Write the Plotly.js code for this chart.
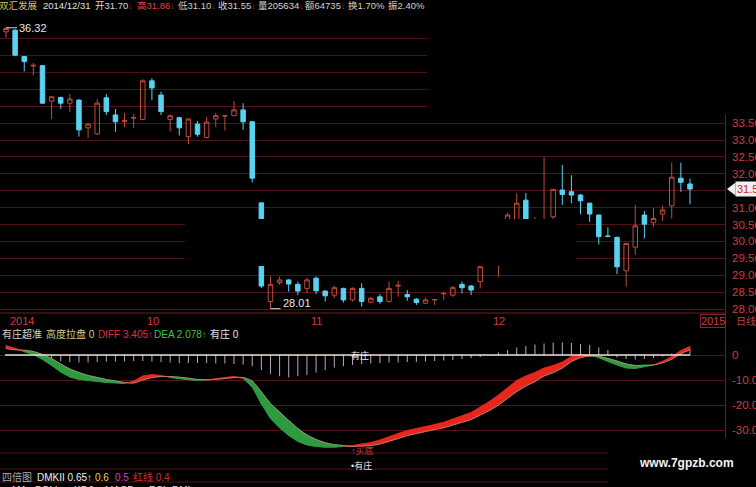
<!DOCTYPE html>
<html><head><meta charset="utf-8">
<script src="https://cdn.plot.ly/plotly-3.0.1.min.js"></script>
<style>html,body{margin:0;padding:0;background:#000;overflow:hidden}#chart{width:756px;height:487px}</style>
</head><body><div id="chart"></div>
<script>
// ---------- data ----------
const dates = [
 '2014-09-10','2014-09-11','2014-09-12','2014-09-15','2014-09-16','2014-09-17','2014-09-18','2014-09-19',
 '2014-09-22','2014-09-23','2014-09-24','2014-09-25','2014-09-26','2014-09-29','2014-09-30',
 '2014-10-08','2014-10-09','2014-10-10','2014-10-13','2014-10-14','2014-10-15','2014-10-16','2014-10-17',
 '2014-10-20','2014-10-21','2014-10-22','2014-10-23','2014-10-24','2014-10-27','2014-10-28','2014-10-29',
 '2014-10-30','2014-10-31',
 '2014-11-03','2014-11-04','2014-11-05','2014-11-06','2014-11-07','2014-11-10','2014-11-11','2014-11-12',
 '2014-11-13','2014-11-14','2014-11-17','2014-11-18','2014-11-19','2014-11-20','2014-11-21','2014-11-24',
 '2014-11-25','2014-11-26','2014-11-27','2014-11-28',
 '2014-12-01','2014-12-02','2014-12-03','2014-12-04','2014-12-05','2014-12-08','2014-12-09','2014-12-10',
 '2014-12-11','2014-12-12','2014-12-15','2014-12-16','2014-12-17','2014-12-18','2014-12-19','2014-12-22',
 '2014-12-23','2014-12-24','2014-12-25','2014-12-26','2014-12-29','2014-12-30','2014-12-31'];

const open  = [36.20,36.25,35.47,35.19,35.20,34.15,34.26,34.09,34.18,33.36,33.18,34.25,33.74,33.55,33.65,
 33.61,34.75,34.33,33.61,33.66,33.10,33.47,33.07,33.62,33.71,33.72,33.89,33.54,31.14,28.22,28.78,28.86,28.73,
 28.61,28.91,28.53,28.41,28.61,28.27,28.61,28.20,28.36,28.22,28.68,28.43,28.29,28.17,28.27,28.45,28.41,28.73,
 28.68,28.81,29.45,29.90,30.10,30.40,31.22,30.30,30.40,30.73,31.52,31.47,31.37,31.13,30.78,30.16,30.12,29.13,
 29.83,30.78,30.55,30.81,31.05,31.87,31.70];
const high  = [36.32,36.28,35.49,35.28,35.22,34.30,34.28,34.36,34.20,33.50,34.21,34.36,33.92,33.80,33.77,
 34.80,34.83,34.43,33.75,33.68,33.65,33.56,33.69,33.80,33.72,34.15,34.09,33.56,31.14,28.96,28.96,28.88,28.81,
 28.92,28.96,28.55,28.68,28.63,28.64,28.76,28.36,28.44,28.81,28.84,28.56,28.33,28.33,28.30,28.51,28.68,28.81,
 28.71,29.30,29.90,30.30,30.85,31.43,31.43,30.72,32.50,31.54,32.26,31.96,31.40,31.15,30.80,30.42,30.14,29.94,
 31.08,30.90,30.98,31.05,32.33,32.33,31.86];
const low   = [36.03,35.48,35.03,34.92,34.07,33.62,33.92,33.83,33.10,33.06,33.15,33.74,33.24,33.38,33.35,
 33.58,34.18,33.74,33.25,33.13,32.88,33.10,33.05,33.38,33.28,33.70,33.30,31.74,28.62,28.01,28.71,28.51,28.41,
 28.47,28.44,28.22,28.32,28.19,28.22,28.07,28.17,28.15,28.20,28.36,28.24,28.12,28.15,28.12,28.27,28.36,28.46,
 28.41,28.61,29.35,28.95,29.90,30.30,30.20,29.90,30.20,30.63,31.08,31.13,30.80,30.58,29.91,30.12,29.03,28.66,
 29.60,30.09,30.43,30.60,30.68,31.47,31.10];
const close = [36.30,35.51,35.32,35.21,34.09,34.28,34.09,34.21,33.30,33.47,34.09,33.84,33.54,33.57,33.66,
 34.75,34.54,33.84,33.72,33.36,33.62,33.17,33.53,33.72,33.72,33.89,33.54,31.87,28.68,28.73,28.86,28.74,28.53,
 28.86,28.54,28.39,28.63,28.27,28.61,28.22,28.32,28.22,28.61,28.70,28.36,28.19,28.27,28.28,28.46,28.63,28.63,
 28.56,29.25,29.80,30.10,30.78,31.13,30.35,30.45,30.60,31.54,31.39,31.37,31.20,30.81,30.14,30.15,29.25,29.94,
 30.46,30.51,30.68,30.93,31.90,31.75,31.55];

const diff = [3.8,2.7,1.3,0.2,-1.8,-4.2,-6.8,-8.8,-9.8,-10.2,-10.6,-11.0,-11.2,-11.4,-10.4,-8.4,-7.8,-8.2,-9.0,
 -9.5,-9.9,-10.2,-10.1,-9.5,-9.0,-8.6,-9.4,-12.8,-19.6,-25.4,-29.2,-32.2,-34.6,-36.0,-36.6,-36.9,-36.9,-36.6,
 -36.2,-35.6,-35.0,-34.0,-32.7,-31.4,-30.2,-29.4,-28.6,-27.8,-26.9,-25.6,-24.3,-23.0,-20.8,-18.6,-16.0,-13.1,
 -10.2,-8.4,-7.0,-5.2,-4.2,-2.8,-0.6,0.2,0.0,-1.1,-2.6,-4.0,-5.2,-5.4,-4.7,-4.0,-2.5,-0.7,1.8,3.405];
const dea  = [2.6,2.1,1.9,1.4,0.2,-1.4,-3.6,-5.6,-7.0,-8.2,-9.0,-9.8,-10.4,-11.0,-11.2,-10.0,-9.0,-8.6,-8.6,
 -8.9,-9.3,-9.8,-9.9,-9.7,-9.4,-9.0,-9.0,-10.4,-14.8,-19.4,-22.8,-26.2,-29.4,-32.0,-33.8,-35.1,-35.9,-36.2,
 -36.6,-36.4,-36.2,-35.6,-34.5,-33.4,-32.2,-31.4,-30.6,-29.8,-29.1,-28.0,-26.9,-25.8,-24.0,-22.2,-20.0,-17.3,
 -14.6,-12.4,-10.6,-8.4,-7.0,-5.2,-2.6,-1.0,-0.4,-0.5,-1.4,-2.4,-3.6,-4.2,-4.1,-4.0,-3.1,-1.7,0.6,2.078];
const bars = [0,0,0,0,-1.5,-2.0,-2.5,-2.8,-3.0,-3.0,-2.8,-2.6,-2.6,-2.6,-2.4,-2.4,-2.6,-2.8,-3.0,-3.2,-3.2,
 -3.2,-3.2,-3.4,-3.4,-3.6,-3.8,-4.5,-6.0,-7.5,-8.5,-9.0,-8.5,-8.0,-7.0,-6.0,-5.0,-4.5,-4.0,-3.6,-3.4,-3.2,
 -3.0,-3.0,-2.8,-2.8,-2.6,-2.4,-2.2,-2.0,-1.6,-1.2,-0.8,0,1.0,2.0,3.0,3.6,4.2,4.6,5.0,5.0,4.8,4.4,4.0,3.0,
 2.0,-1.0,-1.6,-1.8,-1.6,-1.2,-0.6,0.6,1.2,2.6];

const priceTicks = [28,28.5,29,29.5,30,30.5,31,31.5,32,32.5,33,33.5,34,34.5,35,35.5,36];
// 31.50 sits behind the last-price marker on the source, so it is left blank
const priceLabels = ['28.00','28.50','29.00','29.50','30.00','30.50','31.00','','32.00','32.50','33.00','33.50','','','','',''];
const indTicks = [0,-10,-20,-30];
const indLabels = ['0','-10.00','-20.00','-30.00'];
const monthIdx = [0,15,33,53];
const monthLabels = ['2014','10','11','12'];

// ---------- style ----------
const W = 756, H = 487;
const PX = p => p / W, PY = p => 1 - p / H;
const UP = '#c24b3a', DOWN = '#5ad3f2';
const GRID = '#521313', AXIS = '#6e1c1c', LBL = '#cf3d3d';
const FONT = 'Liberation Sans, Arial, Noto Sans CJK SC, sans-serif';
const n = dates.length;

const traces = [];
traces.push({
  type: 'candlestick', x: dates, open: open, high: high, low: low, close: close,
  xaxis: 'x', yaxis: 'y', hoverinfo: 'skip',
  increasing: {line: {color: UP, width: 1}, fillcolor: 'rgba(0,0,0,0)'},
  decreasing: {line: {color: DOWN, width: 1}, fillcolor: DOWN},
  whiskerwidth: 0
});

// histogram bars (thin sticks)
const bx = [], by = [];
for (let i = 0; i < n; i++) { if (bars[i] !== 0) { bx.push(dates[i], dates[i], null); by.push(0, bars[i], null); } }
traces.push({type: 'scatter', mode: 'lines', x: bx, y: by, xaxis: 'x2', yaxis: 'y2',
  line: {color: '#b9a9c4', width: 1}, hoverinfo: 'skip'});

// DIFF / DEA band, red where DIFF above DEA, green below
for (let i = 0; i < n - 1; i++) {
  const upSeg = (diff[i] + diff[i+1]) >= (dea[i] + dea[i+1]);
  const col = upSeg ? '#e8261c' : '#2f9a40';
  traces.push({type: 'scatter', mode: 'lines', xaxis: 'x2', yaxis: 'y2', hoverinfo: 'skip',
    x: [dates[i], dates[i+1], dates[i+1], dates[i], dates[i]],
    y: [diff[i], diff[i+1], dea[i+1], dea[i], diff[i]],
    fill: 'toself', fillcolor: col, line: {color: col, width: 1}});
}
traces.push({type: 'scatter', mode: 'lines', x: dates, y: dea, xaxis: 'x2', yaxis: 'y2',
  line: {color: '#a89276', width: 0.8, shape: 'spline'}, hoverinfo: 'skip'});

// ---------- annotations ----------
const ann = [];
const ARW = '<span style="color:#d03030;font-size:8px">↓</span>';
const header = [
  [-3, '双汇发展', '#d8c070'], [41, '2014/12/31', '#e0e0e0'], [93, '开31.70' + ARW, '#d8d8d8'],
  [135, '高31.86' + ARW, '#e04040'], [176, '低31.10' + ARW, '#c8d0d0'],
  [216, '收31.55' + ARW, '#d0d0d0'], [256, '量205634' + ARW, '#d8d8d8'], [303, '额64735' + ARW, '#d0d0d0'],
  [346, '换1.70%', '#d0d0d0'], [386, '振2.40%', '#d0d0d0']];
header.forEach(h => ann.push({xref: 'paper', yref: 'paper', x: PX(h[0]), y: PY(6), xanchor: 'left', yanchor: 'middle',
  showarrow: false, text: h[1], font: {family: FONT, size: 9.5, color: h[2]}}));

for (let k = 0; k < monthIdx.length; k++) {
  ann.push({xref: 'x', yref: 'paper', x: monthIdx[k], y: PY(321), xanchor: 'left', yanchor: 'middle', xshift: 2,
    showarrow: false, text: monthLabels[k], font: {family: FONT, size: 11, color: LBL}});
}
ann.push({xref: 'paper', yref: 'paper', x: PX(700), y: PY(321), xanchor: 'left', yanchor: 'middle', showarrow: false,
  text: '2015', font: {family: FONT, size: 11, color: LBL}, bordercolor: '#7a2a2a', borderwidth: 1, borderpad: 0});
ann.push({xref: 'paper', yref: 'paper', x: PX(734), y: PY(321), xanchor: 'left', yanchor: 'middle', showarrow: false,
  text: '日线', font: {family: FONT, size: 10, color: '#b04848'}});

// extreme price labels
let hi = 0, lo = 0;
for (let i = 1; i < n; i++) { if (high[i] > high[hi]) hi = i; if (low[i] < low[lo]) lo = i; }
ann.push({xref: 'x', yref: 'y', x: hi + 1.2, y: high[hi], xanchor: 'left', yanchor: 'middle', showarrow: false,
  text: high[hi].toFixed(2), font: {family: FONT, size: 11, color: '#e8e8e8'}});
ann.push({xref: 'x', yref: 'y', x: lo + 1.1, y: low[lo], xanchor: 'left', yanchor: 'bottom', yshift: -2, showarrow: false,
  text: low[lo].toFixed(2), font: {family: FONT, size: 11, color: '#e8e8e8'}});

// last price marker
ann.push({xref: 'paper', yref: 'y', x: PX(735), y: close[n-1], xanchor: 'left', yanchor: 'middle', showarrow: false,
  text: close[n-1].toFixed(2), bgcolor: '#f0f0f0', borderpad: 1, font: {family: FONT, size: 11, color: '#d02020'}});

// indicator header
const indHead = [
  [0, '有庄超准', '#d8d0c8'], [44, '高度拉盘 0', '#d4c88a'], [96, 'DIFF ' + diff[n-1].toFixed(3) + '↑', '#e03030'],
  [152, 'DEA ' + dea[n-1].toFixed(3) + '↑', '#40c048'], [208, '有庄 0', '#e8e8e8']];
indHead.forEach(h => ann.push({xref: 'paper', yref: 'paper', x: PX(h[0]), y: PY(334), xanchor: 'left', yanchor: 'middle',
  showarrow: false, text: h[1], font: {family: FONT, size: 10, color: h[2]}}));

const botHead = [[0, '四倍图', '#a8a8a8'], [35, 'DMKII 0.65↑', '#f0f0f0'], [93, '0.6', '#e0d070'],
  [113, '0.5', '#d040d0'], [131, '红线 0.4', '#d03030']];
botHead.forEach(h => ann.push({xref: 'paper', yref: 'paper', x: PX(h[0]), y: PY(477), xanchor: 'left', yanchor: 'middle',
  showarrow: false, text: h[1], font: {family: FONT, size: 10, color: h[2]}}));
const tabs = [[10, 'MA'], [33, 'BOLL'], [72, 'KDJ'], [103, 'MACD'], [147, 'RSI'], [170, 'DMI']];
tabs.forEach(t => ann.push({xref: 'paper', yref: 'paper', x: PX(t[0]), y: PY(483), xanchor: 'left', yanchor: 'top',
  showarrow: false, text: t[1], font: {family: FONT, size: 10, color: '#e0e0e0'}}));

ann.push({xref: 'x2', yref: 'y2', x: 38, y: 0, xanchor: 'left', yanchor: 'middle', showarrow: false, xshift: -4,
  text: '有庄', font: {family: FONT, size: 9, color: '#f0f0f0'}});
ann.push({xref: 'x2', yref: 'paper', x: 38, y: PY(450), xanchor: 'left', yanchor: 'middle', showarrow: false, xshift: -4,
  text: '↑买底', font: {family: FONT, size: 9, color: '#c83a3a'}});
ann.push({xref: 'x2', yref: 'paper', x: 38, y: PY(465), xanchor: 'left', yanchor: 'middle', showarrow: false, xshift: -4,
  text: '•有庄', font: {family: FONT, size: 9, color: '#e8e8e8'}});
ann.push({xref: 'paper', yref: 'paper', x: PX(637), y: PY(463), xanchor: 'left', yanchor: 'middle', showarrow: false,
  text: '<b>www.7gpzb.com</b>', font: {family: FONT, size: 12, color: '#f4f4f4'}});

// ---------- shapes ----------
const shapes = [];
const hline = (y, x0, x1, c, w) => shapes.push({type: 'line', xref: 'paper', yref: 'paper', x0: PX(x0), x1: PX(x1), y0: PY(y), y1: PY(y), line: {color: c, width: w || 1}});
hline(313, 0, 725, AXIS);
[453, 469, 482].forEach(y => hline(y, 0, 608, GRID));
shapes.push({type: 'line', xref: 'paper', yref: 'paper', x0: PX(725.5), x1: PX(725.5), y0: PY(115), y1: PY(438), line: {color: AXIS, width: 1}});
// zero line of indicator
shapes.push({type: 'line', xref: 'x2', yref: 'y2', x0: -0.1, x1: n - 1, y0: 0, y1: 0, line: {color: '#e8e2d8', width: 1.5}});
// bracket marks on extremes
shapes.push({type: 'line', xref: 'x', yref: 'y', x0: hi, x1: hi + 1.2, y0: high[hi], y1: high[hi], line: {color: '#d8d8d8', width: 1}});
shapes.push({type: 'line', xref: 'x', yref: 'y', x0: lo, x1: lo + 1.1, y0: low[lo], y1: low[lo], line: {color: '#d8d8d8', width: 1}});
// last price pointer
const tri = 0.19;
shapes.push({type: 'path', xref: 'paper', yref: 'y', fillcolor: '#f0f0f0', line: {width: 0},
  path: `M ${PX(727)} ${close[n-1]} L ${PX(735.5)} ${close[n-1] + tri} L ${PX(735.5)} ${close[n-1] - tri} Z`});
// black masks present on the source screenshot
const mask = (x0, y0, x1, y1) => shapes.push({type: 'rect', xref: 'paper', yref: 'paper', layer: 'above',
  x0: PX(x0), x1: PX(x1), y0: PY(y1), y1: PY(y0), fillcolor: '#000', line: {width: 0}});
mask(427, 18, 724.5, 115);
mask(185, 219, 577, 266);

const layout = {
  width: W, height: H, margin: {l: 0, r: 0, t: 0, b: 0}, paper_bgcolor: '#000', plot_bgcolor: '#000',
  showlegend: false, dragmode: false,
  xaxis: {domain: [0, 725 / W], range: [-0.658, 78.84], type: 'category', anchor: 'y', showgrid: false, zeroline: false,
    showticklabels: false, ticks: '', rangeslider: {visible: false}, fixedrange: true},
  xaxis2: {domain: [0, 725 / W], matches: 'x', type: 'category', anchor: 'y2', showgrid: false, zeroline: false,
    showticklabels: false, ticks: ''},
  yaxis: {domain: [PY(313), PY(20)], range: [27.8817, 36.5503], side: 'right', anchor: 'x',
    tickmode: 'array', tickvals: priceTicks, ticktext: priceLabels, showgrid: true, gridcolor: GRID, gridwidth: 1,
    zeroline: false, ticks: '', ticklabelstandoff: 6, tickfont: {family: FONT, size: 11.5, color: LBL}, fixedrange: true},
  yaxis2: {domain: [PY(450), PY(340)], range: [-38, 6], side: 'right', anchor: 'x2',
    tickmode: 'array', tickvals: indTicks, ticktext: indLabels, showgrid: true, gridcolor: GRID, gridwidth: 1,
    zeroline: false, ticks: '', ticklabelstandoff: 6, tickfont: {family: FONT, size: 11.5, color: LBL}},
  annotations: ann, shapes: shapes
};
Plotly.newPlot('chart', traces, layout, {staticPlot: true, displayModeBar: false});
</script></body></html>
